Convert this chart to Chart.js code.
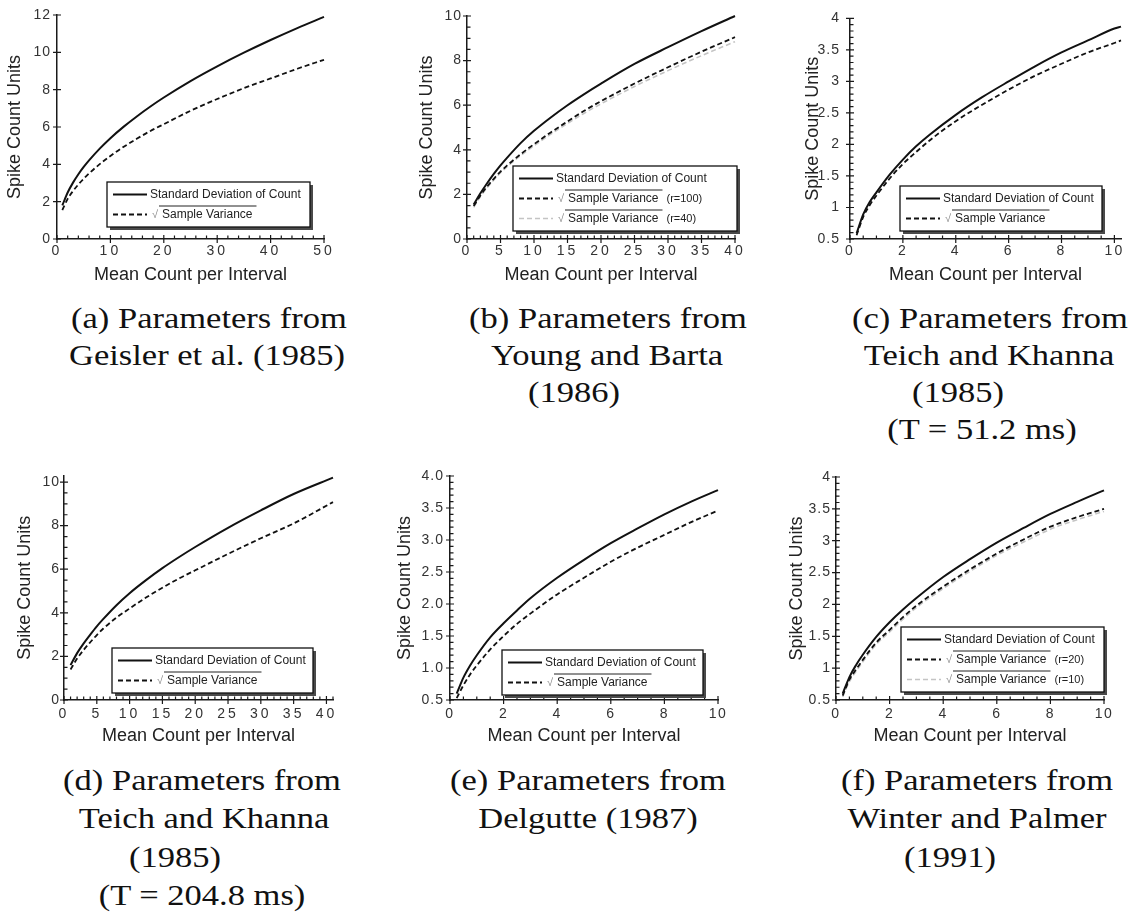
<!DOCTYPE html>
<html>
<head>
<meta charset="utf-8">
<title>Spike count variability</title>
<script src="https://cdn.jsdelivr.net/npm/chart.js@4.4.1/dist/chart.umd.min.js"></script>
<style>
  html, body { margin: 0; padding: 0; background: #fff; }
  body { width: 1129px; height: 912px; position: relative; overflow: hidden; }
  canvas { position: absolute; }
  .cap {
    position: absolute;
    white-space: nowrap;
    font-family: "Liberation Serif", "Times New Roman", serif;
    font-size: 30px;
    line-height: 1;
    color: #111;
    transform: translate(-50%, -50%) scaleX(1.15);
  }
</style>
</head>
<body>

<div class="cap" style="left:209px; top:318px">(a) Parameters from</div>
<div class="cap" style="left:207px; top:355px">Geisler et al. (1985)</div>

<div class="cap" style="left:608px; top:318px">(b) Parameters from</div>
<div class="cap" style="left:607px; top:355px">Young and Barta</div>
<div class="cap" style="left:574px; top:392px">(1986)</div>

<div class="cap" style="left:990px; top:318px">(c) Parameters from</div>
<div class="cap" style="left:989px; top:355px">Teich and Khanna</div>
<div class="cap" style="left:958px; top:392px">(1985)</div>
<div class="cap" style="left:982px; top:429px">(T = 51.2 ms)</div>

<div class="cap" style="left:202px; top:780px">(d) Parameters from</div>
<div class="cap" style="left:204px; top:818px">Teich and Khanna</div>
<div class="cap" style="left:175px; top:857px">(1985)</div>
<div class="cap" style="left:202px; top:895px">(T = 204.8 ms)</div>

<div class="cap" style="left:588px; top:780px">(e) Parameters from</div>
<div class="cap" style="left:588px; top:818px">Delgutte (1987)</div>

<div class="cap" style="left:977px; top:780px">(f) Parameters from</div>
<div class="cap" style="left:977px; top:818px">Winter and Palmer</div>
<div class="cap" style="left:950px; top:857px">(1991)</div>

<script>
// ---- (a) Geisler et al.
const countA = [1, 2, 3, 4, 5, 6, 8, 10, 12.5, 15, 17.5, 20, 25, 30, 35, 40, 45, 50];
const sdA = [1.8, 2.49, 3.02, 3.47, 3.86, 4.21, 4.84, 5.4, 6.02, 6.58, 7.1, 7.58, 8.46, 9.25, 9.98, 10.66, 11.3, 11.9];
const varA = [1.55, 2.15, 2.57, 2.92, 3.23, 3.51, 4.01, 4.45, 4.94, 5.38, 5.79, 6.15, 6.87, 7.5, 8.08, 8.6, 9.12, 9.6];
const ticksXA = [0, 10, 20, 30, 40, 50];
const ticksYA = [0, 2, 4, 6, 8, 10, 12];

// ---- (b) Young and Barta
const countB = [1, 2, 3, 4, 5, 6, 8, 10, 12.5, 15, 17.5, 20, 25, 30, 35, 40];
const sdB = [1.55, 2.05, 2.5, 2.92, 3.3, 3.65, 4.3, 4.85, 5.45, 6.0, 6.5, 6.97, 7.85, 8.6, 9.32, 10.0];
const var100B = [1.48, 1.95, 2.35, 2.7, 3.02, 3.3, 3.8, 4.25, 4.78, 5.27, 5.75, 6.18, 6.97, 7.7, 8.4, 9.05];
const var40B = [1.42, 1.9, 2.3, 2.65, 2.97, 3.25, 3.74, 4.18, 4.7, 5.18, 5.64, 6.06, 6.84, 7.55, 8.22, 8.85];
const ticksXB = [0, 5, 10, 15, 20, 25, 30, 35, 40];
const ticksYB = [0, 2, 4, 6, 8, 10];

// ---- (c) Teich and Khanna, T = 51.2 ms
const countC = [0.25, 0.5, 0.75, 1, 1.5, 2, 2.5, 3, 4, 5, 6, 7, 8, 9, 10, 10.25];
const sdC = [0.59, 0.89, 1.09, 1.24, 1.52, 1.76, 1.97, 2.15, 2.47, 2.75, 3.0, 3.24, 3.46, 3.65, 3.84, 3.87];
const varC = [0.56, 0.85, 1.04, 1.19, 1.46, 1.69, 1.88, 2.06, 2.37, 2.63, 2.87, 3.09, 3.28, 3.46, 3.61, 3.65];
const ticksXC = [0, 2, 4, 6, 8, 10];
const ticksYC = [0.5, 1, 1.5, 2, 2.5, 3, 3.5, 4];
const labelsYC = ['0.5', '1', '1.5', '2', '2.5', '3', '3.5', '4'];

// ---- (d) Teich and Khanna, T = 204.8 ms
const countD = [1, 2, 3, 4, 5, 6, 8, 10, 12.5, 15, 17.5, 20, 25, 30, 35, 41];
const sdD = [1.6, 2.15, 2.6, 3.0, 3.38, 3.72, 4.35, 4.9, 5.5, 6.05, 6.55, 7.02, 7.9, 8.7, 9.45, 10.2];
const varD = [1.4, 1.9, 2.3, 2.65, 2.98, 3.28, 3.78, 4.2, 4.7, 5.15, 5.57, 5.95, 6.7, 7.42, 8.1, 9.08];
const ticksXD = [0, 5, 10, 15, 20, 25, 30, 35, 40];
const ticksYD = [0, 2, 4, 6, 8, 10];

// ---- (e) Delgutte
const countE = [0.25, 0.5, 0.75, 1, 1.5, 2, 2.5, 3, 4, 5, 6, 7, 8, 9, 10];
const sdE = [0.6, 0.85, 1.04, 1.2, 1.48, 1.7, 1.9, 2.09, 2.41, 2.69, 2.95, 3.18, 3.4, 3.6, 3.78];
const varE = [0.53, 0.73, 0.9, 1.04, 1.29, 1.5, 1.69, 1.85, 2.15, 2.41, 2.66, 2.88, 3.08, 3.28, 3.46];
const ticksXE = [0, 2, 4, 6, 8, 10];
const ticksYE = [0.5, 1, 1.5, 2, 2.5, 3, 3.5, 4];
const labelsYE = ['0.5', '1.0', '1.5', '2.0', '2.5', '3.0', '3.5', '4.0'];

// ---- (f) Winter and Palmer
const countF = [0.25, 0.5, 0.75, 1, 1.5, 2, 2.5, 3, 4, 5, 6, 7, 8, 9, 10];
const sdF = [0.6, 0.86, 1.05, 1.21, 1.49, 1.72, 1.92, 2.1, 2.43, 2.71, 2.97, 3.2, 3.42, 3.61, 3.79];
const var20F = [0.57, 0.82, 0.98, 1.13, 1.4, 1.6, 1.8, 1.98, 2.28, 2.55, 2.8, 3.02, 3.22, 3.37, 3.5];
const var10F = [0.55, 0.79, 0.95, 1.1, 1.37, 1.57, 1.77, 1.95, 2.25, 2.52, 2.77, 2.98, 3.18, 3.33, 3.46];
const ticksXF = [0, 2, 4, 6, 8, 10];
const ticksYF = [0.5, 1, 1.5, 2, 2.5, 3, 3.5, 4];
const labelsYF = ['0.5', '1', '1.5', '2', '2.5', '3', '3.5', '4'];

const SD_LABEL = 'Standard Deviation of Count';
const VAR_LABEL = 'Sample Variance';

const sansFont = '"Liberation Sans", Arial, sans-serif';

const lineStyles = {
    solid: { borderColor: '#111', borderWidth: 2, borderDash: [] },
    dash: { borderColor: '#111', borderWidth: 1.8, borderDash: [5, 3] },
    gray: { borderColor: '#c4c4c4', borderWidth: 1.6, borderDash: [5, 3] }
};

function curve(label, xs, ys, style, sqrt, note) {
    return Object.assign({
        label: label,
        data: xs.map((x, i) => ({ x: x, y: ys[i] })),
        sqrt: sqrt,
        note: note,
        pointRadius: 0,
        fill: false,
        clip: false,
        tension: 0.4,
        cubicInterpolationMode: 'monotone'
    }, lineStyles[style]);
}

// tick marks on the axes, spaced tick labels and the boxed legend
const panelDecor = {
    id: 'panelDecor',
    beforeDraw(chart, args, opts) {
        Object.values(chart.scales).forEach(s => {
            if (s._spaced) return;
            const draw = s.drawLabels.bind(s);
            const gap = s.axis === 'x' ? opts.xGap : opts.yGap;
            s.drawLabels = function (area) {
                const c = this.ctx;
                c.save();
                c.letterSpacing = gap + 'px';
                draw(area);
                c.restore();
            };
            s._spaced = true;
        });
    },
    afterDraw(chart, args, opts) {
        const { ctx, chartArea: a, scales: { x, y } } = chart;
        ctx.save();
        ctx.strokeStyle = '#1a1a1a';
        ctx.lineWidth = 1.2;
        ctx.setLineDash([]);
        ctx.beginPath();
        x.ticks.forEach(t => {
            const px = x.getPixelForValue(t.value);
            ctx.moveTo(px, a.bottom - 4);
            ctx.lineTo(px, a.bottom + 4);
        });
        y.ticks.forEach(t => {
            const py = y.getPixelForValue(t.value);
            ctx.moveTo(a.left - 4, py);
            ctx.lineTo(a.left + 4, py);
        });
        if (opts.xMinor) {
            const n = Math.floor((x.max - x.min) / opts.xMinor + 1e-6);
            for (let i = 0; i <= n; i++) {
                const px = x.getPixelForValue(x.min + i * opts.xMinor);
                ctx.moveTo(px, a.bottom);
                ctx.lineTo(px, a.bottom - 3.5);
            }
        }
        if (opts.yMinor) {
            const n = Math.floor((y.max - y.min) / opts.yMinor + 1e-6);
            for (let i = 0; i <= n; i++) {
                const py = y.getPixelForValue(y.min + i * opts.yMinor);
                ctx.moveTo(a.left, py);
                ctx.lineTo(a.left + 3.5, py);
            }
        }
        ctx.stroke();

        // legend box with drop shadow
        const lg = opts.legend;
        const rows = chart.data.datasets;
        const h = 25 + 20 * (rows.length - 1);
        ctx.fillStyle = '#4a4a4a';
        ctx.fillRect(lg.x + 3, lg.y + 3, lg.w, h);
        ctx.fillStyle = '#fff';
        ctx.fillRect(lg.x, lg.y, lg.w, h);
        ctx.lineWidth = 1.3;
        ctx.strokeStyle = '#111';
        ctx.strokeRect(lg.x, lg.y, lg.w, h);

        rows.forEach((ds, i) => {
            const cy = lg.y + 12.5 + 20 * i;
            ctx.beginPath();
            ctx.setLineDash(ds.borderDash);
            ctx.lineWidth = ds.borderWidth;
            ctx.strokeStyle = ds.borderColor;
            ctx.moveTo(lg.x + 6, cy);
            ctx.lineTo(lg.x + 40, cy);
            ctx.stroke();
            ctx.setLineDash([]);

            ctx.textBaseline = 'middle';
            ctx.textAlign = 'left';
            ctx.font = '12px ' + sansFont;
            ctx.fillStyle = '#222';
            if (!ds.sqrt) {
                ctx.fillText(ds.label, lg.x + 43, cy);
                return;
            }
            const tw = ctx.measureText(ds.label).width;
            ctx.fillText(ds.label, lg.x + 55, cy);
            ctx.beginPath();
            ctx.lineWidth = 1;
            ctx.strokeStyle = '#222';
            ctx.moveTo(lg.x + 52, cy - 8.5);
            ctx.lineTo(lg.x + 59 + tw, cy - 8.5);
            ctx.stroke();
            ctx.font = '11px ' + sansFont;
            ctx.fillStyle = '#888';
            ctx.fillText('\u221A', lg.x + 45, cy);
            if (ds.note) {
                ctx.fillStyle = '#222';
                ctx.fillText(ds.note, lg.x + 63 + tw, cy);
            }
        });
        ctx.restore();
    }
};

function makePanel(p) {
    const left = p.plot.l - 60, top = Math.round(p.plot.t) - 15;
    const canvas = document.createElement('canvas');
    canvas.width = p.plot.r - p.plot.l + 85;
    canvas.height = p.plot.b - top + 50;
    canvas.style.left = left + 'px';
    canvas.style.top = top + 'px';
    document.body.appendChild(canvas);

    new Chart(canvas, {
        type: 'line',
        data: { datasets: p.series },
        plugins: [panelDecor],
        options: {
            responsive: false,
            animation: false,
            events: [],
            layout: { padding: { left: 0, top: p.plot.t - top, right: 25, bottom: 0 } },
            plugins: {
                legend: { display: false },
                tooltip: { enabled: false },
                panelDecor: {
                    xMinor: p.xMinor,
                    yMinor: p.yMinor,
                    xGap: p.xGap,
                    yGap: 1,
                    legend: { x: p.legend.l - left, y: p.legend.t - top, w: p.legend.w }
                }
            },
            scales: {
                x: {
                    type: 'linear',
                    min: p.xTicks[0],
                    max: p.xMax,
                    afterBuildTicks: s => { s.ticks = p.xTicks.map(v => ({ value: v })); },
                    afterFit: s => { s.height = 50; },
                    grid: { display: false, drawTicks: false },
                    border: { display: true, color: '#1a1a1a', width: 1.5 },
                    ticks: {
                        autoSkip: false,
                        maxRotation: 0,
                        padding: p.xPad,
                        color: '#333',
                        font: { family: sansFont, size: 14 },
                        callback: v => String(v)
                    },
                    title: {
                        display: true,
                        text: 'Mean Count per Interval',
                        color: '#222',
                        font: { family: sansFont, size: 18 },
                        padding: { top: 0, bottom: 3 }
                    }
                },
                y: {
                    type: 'linear',
                    min: p.yTicks[0],
                    max: p.yMax !== undefined ? p.yMax : p.yTicks[p.yTicks.length - 1],
                    afterBuildTicks: s => { s.ticks = p.yTicks.map(v => ({ value: v })); },
                    afterFit: s => { s.width = 60; },
                    grid: { display: false, drawTicks: false },
                    border: { display: true, color: '#1a1a1a', width: 1.5 },
                    ticks: {
                        autoSkip: false,
                        padding: p.yPad,
                        color: '#333',
                        font: { family: sansFont, size: 14 },
                        callback: (v, i) => p.yLabels ? p.yLabels[i] : String(v)
                    },
                    title: {
                        display: true,
                        text: 'Spike Count Units',
                        color: '#222',
                        font: { family: sansFont, size: 18 },
                        padding: { top: p.yTitleX - left - 10.8, bottom: 0 }
                    }
                }
            }
        }
    });
}

const panels = [
    {
        plot: { l: 57, t: 15, r: 324, b: 239 }, xMax: 50,
        xTicks: ticksXA, yTicks: ticksYA, xMinor: 2, yMinor: 0,
        series: [
            curve(SD_LABEL, countA, sdA, 'solid', false),
            curve(VAR_LABEL, countA, varA, 'dash', true)
        ],
        legend: { l: 107, t: 182, w: 203 }, yTitleX: 15, yPad: 6, xPad: 4, xGap: 3
    },
    {
        plot: { l: 467, t: 16, r: 735, b: 239 }, xMax: 40,
        xTicks: ticksXB, yTicks: ticksYB, xMinor: 1, yMinor: 0.5,
        series: [
            curve(SD_LABEL, countB, sdB, 'solid', false),
            curve(VAR_LABEL, countB, var100B, 'dash', true, '(r=100)'),
            curve(VAR_LABEL, countB, var40B, 'gray', true, '(r=40)')
        ],
        legend: { l: 513, t: 166, w: 224 }, yTitleX: 427, yPad: 5, xPad: 4, xGap: 3
    },
    {
        plot: { l: 850, t: 15, r: 1121, b: 239 }, xMax: 10.25,
        xTicks: ticksXC, yTicks: ticksYC, yLabels: labelsYC, xMinor: 0.5, yMinor: 0.1,
        series: [
            curve(SD_LABEL, countC, sdC, 'solid', false),
            curve(VAR_LABEL, countC, varC, 'dash', true)
        ],
        legend: { l: 900, t: 186, w: 202 }, yTitleX: 813, yPad: 10, xPad: 4, xGap: 2
    },
    {
        plot: { l: 64, t: 475.5, r: 333, b: 700 }, xMax: 41, yMax: 10.3,
        xTicks: ticksXD, yTicks: ticksYD, xMinor: 1, yMinor: 0.5,
        series: [
            curve(SD_LABEL, countD, sdD, 'solid', false),
            curve(VAR_LABEL, countD, varD, 'dash', true)
        ],
        legend: { l: 112, t: 648, w: 201 }, yTitleX: 25, yPad: 4, xPad: 6, xGap: 3
    },
    {
        plot: { l: 450, t: 476, r: 718, b: 700 }, xMax: 10,
        xTicks: ticksXE, yTicks: ticksYE, yLabels: labelsYE, xMinor: 0.5, yMinor: 0.1,
        series: [
            curve(SD_LABEL, countE, sdE, 'solid', false),
            curve(VAR_LABEL, countE, varE, 'dash', true)
        ],
        legend: { l: 502, t: 650, w: 201 }, yTitleX: 405, yPad: 6, xPad: 6, xGap: 1.5
    },
    {
        plot: { l: 836, t: 477, r: 1104, b: 700 }, xMax: 10,
        xTicks: ticksXF, yTicks: ticksYF, yLabels: labelsYF, xMinor: 0.5, yMinor: 0.1,
        series: [
            curve(SD_LABEL, countF, sdF, 'solid', false),
            curve(VAR_LABEL, countF, var20F, 'dash', true, '(r=20)'),
            curve(VAR_LABEL, countF, var10F, 'gray', true, '(r=10)')
        ],
        legend: { l: 901, t: 627, w: 203 }, yTitleX: 797, yPad: 5, xPad: 6, xGap: 1.5
    }
];

panels.forEach(makePanel);
</script>
</body>
</html>
